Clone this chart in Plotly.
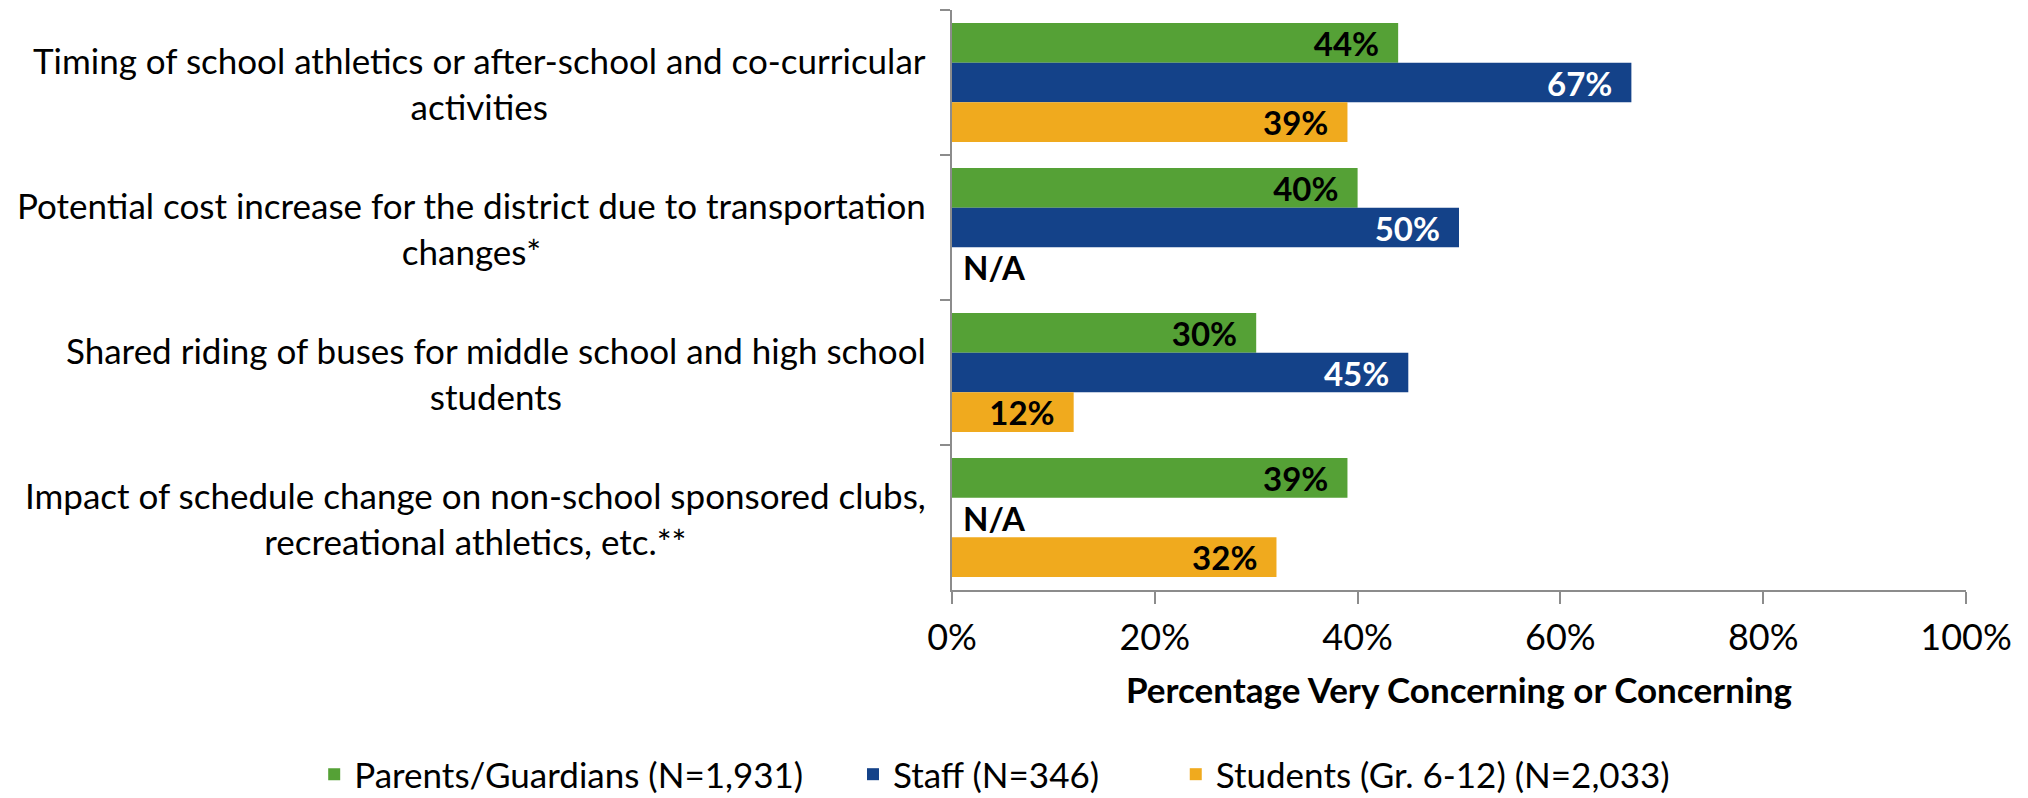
import plotly.graph_objects as go

categories = [
    "Timing of school athletics or after-school and co-curricular<br>activities",
    "Potential cost increase for the district due to transportation<br>changes*",
    "Shared riding of buses for middle school and high school<br>students",
    "Impact of schedule change on non-school sponsored clubs,<br>recreational athletics, etc.**",
]
cat_keys = ["c1", "c2", "c3", "c4"]
series_names = ["Parents/Guardians (N=1,931)", "Staff (N=346)", "Students (Gr. 6-12) (N=2,033)"]
parents = [44, 40, 30, 39]
staff = [67, 50, 45, None]
students = [39, None, 12, 32]
colors = ["#55A136", "#144289", "#F0AA1E"]
label_colors = ["black", "white", "black"]
x_ticks = [0, 20, 40, 60, 80, 100]

FONT = "Lato"
NB = "\u00a0"
legend_pad = [5, 8, 0]  # nbsp after each legend name, to space the entries

fig = go.Figure()
for i, (name, vals, col, lcol) in enumerate(zip(series_names, [parents, staff, students], colors, label_colors)):
    xs = [v if v is not None else 0 for v in vals]
    txt = [f"{v}%{NB}{NB}" if v is not None else f"{NB}N/A" for v in vals]
    pos = ["inside" if v is not None else "outside" for v in vals]
    tcol = [lcol if v is not None else "black" for v in vals]
    fig.add_trace(go.Bar(
        name=name + NB * legend_pad[i], y=cat_keys, x=xs, orientation="h",
        marker=dict(color=col, line=dict(width=0)),
        text=txt, textposition=pos, textangle=0,
        insidetextanchor="end",
        textfont=dict(family=FONT, size=33, color=tcol, weight="bold"),
        cliponaxis=False,
    ))

for key, lab in zip(cat_keys, categories):
    fig.add_annotation(
        x=0, xref="paper", y=key, yref="y", text=lab, showarrow=False,
        xanchor="right", yanchor="middle", align="center", xshift=-24,
        font=dict(family=FONT, size=35, color="black"),
    )

fig.update_layout(
    width=2028, height=798,
    margin=dict(l=944, r=70, t=2, b=208),
    barmode="group", bargap=0.18, bargroupgap=0,
    plot_bgcolor="white", paper_bgcolor="white",
    font=dict(family=FONT, color="black"),
    uniformtext=dict(minsize=33, mode="show"),
    showlegend=True,
    legend=dict(
        orientation="h", xref="paper", yref="paper",
        x=-0.629, y=-0.318, xanchor="left", yanchor="middle",
        font=dict(family=FONT, size=35, color="black"),
        traceorder="normal",
    ),
)
fig.update_xaxes(
    range=[0, 100], tickvals=x_ticks, ticktext=[f"{t}%" for t in x_ticks],
    showgrid=False, zeroline=False, showline=True, linecolor="#8C8C8C", linewidth=2,
    ticks="outside", ticklen=12, tickcolor="#8C8C8C", tickwidth=2,
    ticklabelstandoff=3,
    tickfont=dict(family=FONT, size=36, color="black"),
    title=dict(text="<b>Percentage Very Concerning or Concerning</b>", standoff=21,
               font=dict(family=FONT, size=35, color="black")),
)
fig.update_yaxes(
    type="category", categoryorder="array", categoryarray=cat_keys,
    autorange="reversed", showticklabels=False, showgrid=False, zeroline=False,
    showline=True, linecolor="#8C8C8C", linewidth=2,
    ticks="outside", tickson="boundaries", ticklen=10, tickcolor="#8C8C8C", tickwidth=2,
)

fig.write_html("out.html")
